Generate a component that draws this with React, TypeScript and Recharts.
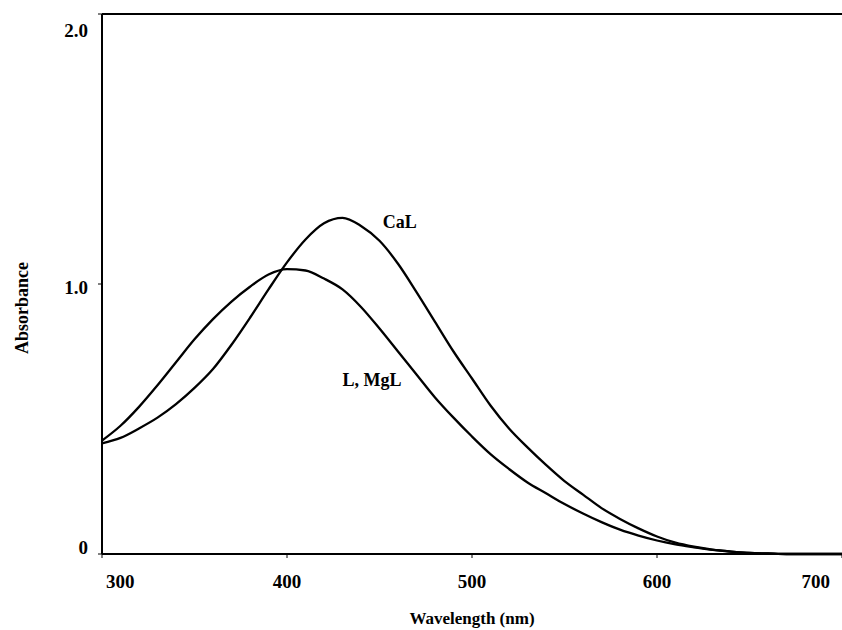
import { LineChart, Line, XAxis, YAxis, ReferenceLine, ReferenceDot } from 'recharts';

const wavelengths = [
  300, 310, 320, 330, 340, 350, 360, 370, 380, 390, 400, 410, 420, 430, 440, 450, 460, 470, 480, 490, 500,
  510, 520, 530, 540, 550, 560, 570, 580, 590, 600, 610, 620, 630, 640, 650, 660, 670, 680, 690, 700,
];

const calAbs = [
  0.41, 0.43, 0.465, 0.505, 0.555, 0.615, 0.685, 0.775, 0.875, 0.98, 1.08, 1.165, 1.225, 1.245, 1.215, 1.16, 1.075,
  0.97, 0.86, 0.75, 0.65, 0.55, 0.465, 0.395, 0.33, 0.27, 0.22, 0.17, 0.13, 0.095, 0.065, 0.042, 0.027, 0.016,
  0.009, 0.004, 0.002, 0, 0, 0, 0,
];

const lMgLAbs = [
  0.42, 0.475, 0.545, 0.625, 0.71, 0.795, 0.87, 0.935, 0.99, 1.035, 1.055, 1.05, 1.02, 0.98, 0.915, 0.835, 0.75,
  0.665, 0.58, 0.505, 0.435, 0.37, 0.315, 0.265, 0.225, 0.185, 0.15, 0.118, 0.09, 0.068, 0.05, 0.036, 0.025, 0.015,
  0.009, 0.004, 0.002, 0, 0, 0, 0,
];

const xTicks = [300, 400, 500, 600, 700];
const yTicks = [0, 1, 2];
const yTickLabels = ['0', '1.0', '2.0'];

const FONT = '"Liberation Serif", "Times New Roman", serif';

const data = wavelengths.map((w, i) => ({ w, cal: calAbs[i], lmgl: lMgLAbs[i] }));

const XTick = ({ x, y, payload }: any) => {
  const v = payload.value;
  const anchor = v === 300 ? 'start' : v === 700 ? 'end' : 'middle';
  const dx = v === 300 ? 4 : 0;
  return (
    <text x={x + dx} y={y + 30} textAnchor={anchor} fontFamily={FONT} fontWeight="bold" fontSize={19} fill="#000">
      {v}
    </text>
  );
};

const YTick = ({ x, y, payload }: any) => {
  const v = payload.value;
  const off = v === 2 ? 16 : v === 0 ? -7 : 3;
  return (
    <text x={x} y={y + off} dy="0.35em" textAnchor="end" fontFamily={FONT} fontWeight="bold" fontSize={19} fill="#000">
      {yTickLabels[yTicks.indexOf(v)]}
    </text>
  );
};

export default function App() {
  return (
    <div style={{ position: 'absolute', left: 0, top: 0, background: '#fff' }}>
      <LineChart width={842} height={630} data={data} margin={{ top: 14, right: 0, bottom: 4, left: 30 }}>
        <XAxis
          dataKey="w"
          type="number"
          domain={[300, 700]}
          ticks={xTicks}
          tick={<XTick />}
          tickSize={4}
          tickMargin={0}
          height={72}
          axisLine={{ stroke: '#000', strokeWidth: 2 }}
          tickLine={{ stroke: '#000' }}
          label={{
            value: 'Wavelength (nm)',
            position: 'insideBottom',
            offset: 2,
            style: { fontFamily: FONT, fontWeight: 'bold', fontSize: 17, fill: '#000' },
          }}
        />
        <YAxis
          type="number"
          domain={[0, 2]}
          ticks={yTicks}
          tick={<YTick />}
          tickSize={4}
          tickMargin={10}
          width={72}
          axisLine={{ stroke: '#000', strokeWidth: 2 }}
          tickLine={{ stroke: '#000' }}
          label={{
            value: 'Absorbance',
            angle: -90,
            position: 'insideLeft',
            offset: -8,
            dy: 24,
            style: { fontFamily: FONT, fontWeight: 'bold', fontSize: 18, fill: '#000', textAnchor: 'middle' },
          }}
        />
        <ReferenceLine y={2} stroke="#000" strokeWidth={2} />
        <Line type="monotone" dataKey="cal" stroke="#000" strokeWidth={2.3} dot={false} isAnimationActive={false} />
        <Line type="monotone" dataKey="lmgl" stroke="#000" strokeWidth={2.3} dot={false} isAnimationActive={false} />
        <ReferenceDot
          x={461}
          y={1.23}
          r={0}
          label={{ value: 'CaL', position: 'center', style: { fontFamily: FONT, fontWeight: 'bold', fontSize: 18, fill: '#000' } }}
        />
        <ReferenceDot
          x={446}
          y={0.645}
          r={0}
          label={{ value: 'L, MgL', position: 'center', style: { fontFamily: FONT, fontWeight: 'bold', fontSize: 18, fill: '#000' } }}
        />
      </LineChart>
    </div>
  );
}
